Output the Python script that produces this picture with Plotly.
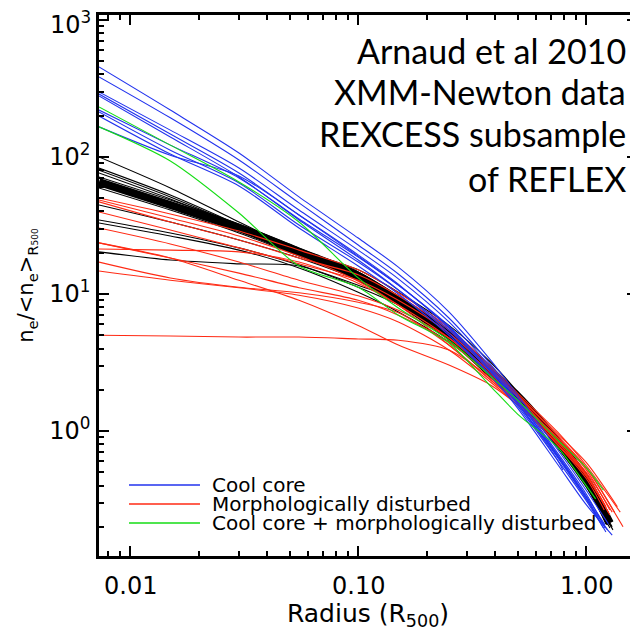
import math
import plotly.graph_objects as go

# radius grid (R500) shared by all profiles, plus a last point per profile
r_grid = [0.0073, 0.015, 0.03, 0.055, 0.1, 0.15, 0.25, 0.38, 0.5, 0.75, 1.0]

# cool core clusters
cc_ne = [
    [454, 220, 107, 51.1, 25.6, 15.7, 7.4, 3.3, 1.83, 0.73, 0.37],
    [384, 193, 95, 46.2, 22.8, 14.0, 6.68, 3.08, 1.74, 0.69, 0.347],
    [298, 157, 83, 41, 20.9, 12.9, 6.25, 2.93, 1.68, 0.66, 0.33],
    [288, 147, 76.4, 37.7, 18.9, 11.6, 5.74, 2.79, 1.60, 0.61],
    [279, 140, 71.5, 34.7, 17.7, 10.7, 5.19, 2.56, 1.47, 0.57, 0.29],
    [220, 122, 70.3, 35.3, 18.6, 11.6, 5.84, 2.79, 1.66, 0.67, 0.335],
    [213, 112, 64.6, 31.9, 17.1, 10.7, 5.46, 2.70, 1.57, 0.64, 0.32],
    [199, 105, 61.4, 30.3, 16.0, 10.0, 5.0, 2.52, 1.52, 0.61, 0.31],
    [166, 103, 72.7, 37.7, 19.3, 11.8, 5.65, 2.79, 1.60, 0.65, 0.32],
]
cc_r_end = [1.25, 1.21, 1.15, 0.79, 1.30, 1.21, 1.24, 1.19, 1.22]
cc_ne_end = [0.21, 0.196, 0.217, 0.52, 0.174, 0.206, 0.19, 0.196, 0.183]

# morphologically disturbed clusters
md_ne = [
    [50.2, 38.4, 28.8, 20.9, 15.0, 10.2, 5.65, 2.98, 1.89, 0.98, 0.56],
    [47, 33.5, 24.8, 18.3, 13.8, 9.7, 5.46, 2.88, 1.83, 0.95, 0.59],
    [39.7, 29.3, 21.7, 16.6, 12.6, 9.0, 5.19, 2.79, 1.80, 0.92, 0.54],
    [30.3, 23.2, 17.1, 12.6, 9.7, 7.6, 4.77, 2.70, 1.77, 0.86, 0.50],
    [23.6, 18.3, 14.2, 11.1, 9.0, 7.0, 4.46, 2.52, 1.68, 0.83, 0.48],
    [21.3, 20.9, 20.3, 17.1, 12.0, 8.3, 4.77, 2.61, 1.68, 0.89, 0.52],
    [17.1, 13.1, 11.2, 10.2, 8.7, 7.3, 4.24, 2.36, 1.60, 0.80, 0.47],
    [14.7, 12.6, 11.1, 9.8, 7.9, 6.25, 3.9, 2.28, 1.55, 0.79, 0.45],
    [5.0, 4.94, 4.85, 4.85, 4.7, 4.6, 3.9, 2.44, 1.63, 0.86, 0.485],
    [23.6, 18.3, 12.6, 9.0, 5.9, 4.24, 3.03, 2.17, 1.55, 0.83, 0.47],
    [48.5, 35.9, 26.5, 18.9, 12.4, 8.3, 4.24, 2.36, 1.63, 0.89, 0.54],
]
md_r_end = [1.41, 1.37, 1.45, 1.30, 1.22, 1.27, 1.25, 1.20, 1.22, 1.27, 1.33]
md_ne_end = [0.256, 0.28, 0.20, 0.256, 0.28, 0.265, 0.256, 0.265, 0.28, 0.244, 0.256]

# cool core + morphologically disturbed
ccmd_ne = [
    [232, 122, 65.7, 33.5, 13.1, 7.9, 4.6, 2.52, 1.68, 0.86, 0.54],
    [166, 93.5, 39, 16.0, 11.2, 7.0, 4.39, 2.13, 1.33, 0.76, 0.40],
]
ccmd_r_end = [1.19, 1.10]
ccmd_ne_end = [0.37, 0.32]

# remaining clusters
other_ne = [
    [100, 59.4, 33.5, 20.9, 14.5, 9.7, 5.46, 2.98, 1.93, 0.89, 0.47],
    [83, 52.8, 31.9, 20.3, 14.0, 9.35, 5.28, 2.88, 1.86, 0.86, 0.45],
    [80, 51.1, 31.4, 19.9, 13.5, 8.9, 4.94, 2.70, 1.80, 0.80, 0.41],
    [76.4, 49.4, 31.4, 20.9, 15.0, 10.3, 5.9, 3.19, 1.93, 0.83, 0.425],
    [44.6, 33.5, 24.8, 18.3, 12.6, 8.3, 4.6, 2.56, 1.74, 0.79, 0.40],
    [34.7, 27.9, 21.7, 16.3, 11.6, 9.0, 5.0, 2.70, 1.77, 0.82, 0.425],
    [33, 26.5, 20.9, 15.5, 10.3, 7.4, 4.46, 2.61, 1.74, 0.78, 0.40],
    [20.3, 17.7, 16.6, 16.0, 11.2, 8.3, 4.77, 2.70, 1.74, 0.76, 0.39],
    [71.5, 48.5, 32.4, 21.7, 14.5, 9.5, 5.28, 2.79, 1.86, 0.86, 0.45],
    [59.4, 41, 27.9, 18.9, 12.6, 8.45, 4.7, 2.52, 1.71, 0.79, 0.41],
]
other_r_end = [1.30, 1.27, 1.22, 1.25, 1.27, 1.24, 1.31, 1.29, 1.25, 1.30]
other_ne_end = [0.217, 0.206, 0.21, 0.224, 0.196, 0.206, 0.19, 0.20, 0.22, 0.20]

# mean scaled profile
mean_ne = [65.7, 44.6, 30.3, 20.3, 13.5, 9.0, 5.0, 2.65, 1.80, 0.83, 0.44]
mean_r_end = 1.27
mean_ne_end = 0.213

x_ticks = [0.01, 0.1, 1]
x_tick_labels = ['0.01', '0.10', '1.00']
legend_labels = ['Cool core', 'Morphologically disturbed',
                 'Cool core + morphologically disturbed']
note_lines = ['Arnaud et al 2010', 'XMM-Newton data', 'REXCESS subsample', 'of REFLEX']
BLUE, RED, GREEN = '#2233ee', '#ff2a14', '#14dd14'

fig = go.Figure()


def add_profiles(profiles, r_end, ne_end, color, width=1.1):
    for ne, re_, nee in zip(profiles, r_end, ne_end):
        fig.add_trace(go.Scatter(x=r_grid[:len(ne)] + [re_], y=list(ne) + [nee],
                                 mode='lines', showlegend=False, hoverinfo='skip',
                                 line=dict(color=color, width=width,
                                           shape='spline', smoothing=0.8)))


add_profiles(other_ne, other_r_end, other_ne_end, 'black')
add_profiles([mean_ne], [mean_r_end], [mean_ne_end], 'black', width=8)
add_profiles(md_ne, md_r_end, md_ne_end, RED)
add_profiles(cc_ne, cc_r_end, cc_ne_end, BLUE)
add_profiles(ccmd_ne, ccmd_r_end, ccmd_ne_end, GREEN)

# hand drawn legend, bottom left
for i, (lab, col) in enumerate(zip(legend_labels, [BLUE, RED, GREEN])):
    yy = 0.1312 - i * 0.0351
    fig.add_shape(type='line', xref='paper', yref='paper', x0=0.0558, x1=0.1877,
                  y0=yy, y1=yy, line=dict(color=col, width=1.5))
    fig.add_annotation(text=lab, xref='paper', yref='paper', x=0.2063, y=yy,
                       xanchor='left', yanchor='middle', showarrow=False,
                       font=dict(family='DejaVu Sans', size=20, color='black'))

for txt, yy in zip(note_lines, [0.9353, 0.8586, 0.7810, 0.6987]):
    fig.add_annotation(text=txt, xref='paper', yref='paper', x=0.9836, y=yy,
                       xanchor='right', yanchor='middle', showarrow=False,
                       font=dict(family='Lato', size=34, color='black'))

# x tick labels set a bit further below the axis, as in the original
for v, lab in zip(x_ticks, x_tick_labels):
    fig.add_annotation(text=lab, xref='x', yref='paper', x=math.log10(v), y=-0.0555,
                       xanchor='center', yanchor='middle', showarrow=False,
                       font=dict(family='DejaVu Sans', size=24, color='black'))

# top y label sits a little below its tick so it stays inside the page
fig.add_annotation(text='10<sup>3</sup>', xref='paper', yref='y', x=-0.012, y=2.975,
                   xanchor='right', yanchor='middle', showarrow=False,
                   font=dict(family='DejaVu Sans', size=24, color='black'))

axis_style = dict(type='log', ticks='inside', ticklen=10, tickwidth=2, tickcolor='black',
                  linecolor='black', linewidth=2.5, mirror='ticks', showgrid=False,
                  zeroline=False, tickfont=dict(size=24, color='black'))

fig.update_xaxes(range=[-2.1367, 0.2227], tickvals=x_ticks,
                 ticktext=['', '', ''],
                 minor=dict(tickvals=[0.008, 0.009, 0.02, 0.03, 0.04, 0.05, 0.06, 0.07, 0.08,
                                      0.09, 0.2, 0.3, 0.4, 0.5, 0.6, 0.7, 0.8, 0.9],
                            ticks='inside', ticklen=5, tickwidth=1.5, tickcolor='black'),
                 title=dict(text='Radius (R<sub>500</sub>)', font=dict(size=25), standoff=42),
                 **axis_style)
fig.update_yaxes(range=[-0.912, 3.036], tickvals=[1, 10, 100, 1000],
                 ticktext=['10<sup>0</sup>', '10<sup>1</sup>', '10<sup>2</sup>', ''],
                 ticklabelstandoff=1,
                 minor=dict(tickvals=[0.2, 0.3, 0.4, 0.5, 0.6, 0.7, 0.8, 0.9,
                                      2, 3, 4, 5, 6, 7, 8, 9, 20, 30, 40, 50, 60, 70, 80, 90,
                                      200, 300, 400, 500, 600, 700, 800, 900],
                            ticks='inside', ticklen=5, tickwidth=1.5, tickcolor='black'),
                 title=dict(text="n<sub>e</sub>/&lt;n<sub>e</sub>&gt;<sub>R<span style='font-size:9px'>500</span></sub>",
                            font=dict(size=21), standoff=10),
                 **axis_style)

# the page body adds an 8px margin, so the figure is 8px smaller than the window
fig.update_layout(width=630, height=628,
                  margin=dict(l=91, r=1, t=7, b=80, autoexpand=False),
                  plot_bgcolor='white', paper_bgcolor='white',
                  font=dict(family='DejaVu Sans', color='black'))

fig.write_html('out.html')
